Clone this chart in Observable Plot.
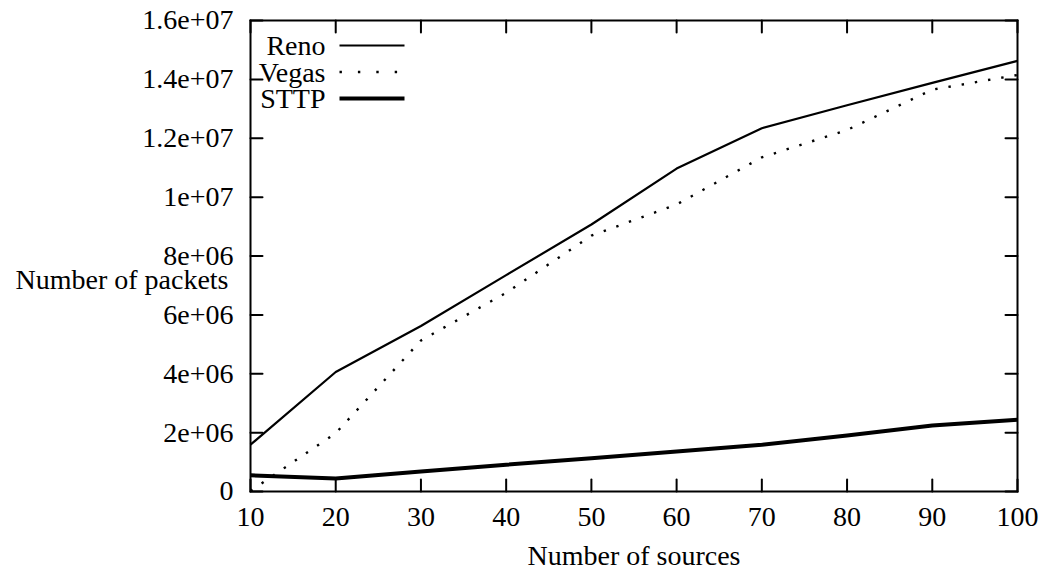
<!DOCTYPE html>
<html>
<head>
<meta charset="utf-8">
<script src="https://cdn.jsdelivr.net/npm/d3@7"></script>
<script src="https://cdn.jsdelivr.net/npm/@observablehq/plot@0.6"></script>
<style>
  html, body { margin: 0; padding: 0; background: #fff; }
  #chart svg { display: block; }
</style>
</head>
<body>
<div id="chart"></div>
<script>
// ---- data ----
const sources = [10, 20, 30, 40, 50, 60, 70, 80, 90, 100];
const reno  = [1.59e6, 4.06e6, 5.62e6, 7.35e6, 9.07e6, 10.97e6, 12.34e6, 13.12e6, 13.88e6, 14.63e6];
const vegas = [0.02e6, 1.98e6, 5.13e6, 6.75e6, 8.69e6, 9.75e6, 11.35e6, 12.28e6, 13.65e6, 14.15e6];
const sttp  = [0.55e6, 0.44e6, 0.68e6, 0.91e6, 1.13e6, 1.36e6, 1.59e6, 1.90e6, 2.24e6, 2.44e6];

const seriesNames = ["Reno", "Vegas", "STTP"];
const xTicks = [10, 20, 30, 40, 50, 60, 70, 80, 90, 100];
const xTickLabels = ["10", "20", "30", "40", "50", "60", "70", "80", "90", "100"];
const yTicks = [0, 2e6, 4e6, 6e6, 8e6, 10e6, 12e6, 14e6, 16e6];
const yTickLabels = ["0", "2e+06", "4e+06", "6e+06", "8e+06", "1e+07", "1.2e+07", "1.4e+07", "1.6e+07"];
const xLabel = "Number of sources";
const yLabel = "Number of packets";

// ---- build table ----
const seriesValues = [reno, vegas, sttp];
const rows = [];
seriesNames.forEach((name, i) => {
  sources.forEach((x, j) => rows.push({series: name, x, y: seriesValues[i][j]}));
});

const styles = {
  Reno:  {strokeWidth: 2.2, dash: null,     legendDash: null},
  Vegas: {strokeWidth: 2.4, dash: "2.4,11", legendDash: "2.4,16"},
  STTP:  {strokeWidth: 4,   dash: null,     legendDash: null}
};

const FONT = 28;
const tickShape = {draw(context, l) { context.moveTo(0, 0); context.lineTo(0, -l); }};

const marks = [];
// tick marks pointing inward on all four sides
marks.push(Plot.vector(xTicks, {x: d => d, frameAnchor: "bottom", anchor: "start", length: 12, rotate: 0, shape: tickShape, stroke: "black", strokeWidth: 2}));
marks.push(Plot.vector(xTicks, {x: d => d, frameAnchor: "top", anchor: "start", length: 12, rotate: 180, shape: tickShape, stroke: "black", strokeWidth: 2}));
marks.push(Plot.vector(yTicks, {y: d => d, frameAnchor: "left", anchor: "start", length: 12, rotate: 90, shape: tickShape, stroke: "black", strokeWidth: 2}));
marks.push(Plot.vector(yTicks, {y: d => d, frameAnchor: "right", anchor: "start", length: 12, rotate: -90, shape: tickShape, stroke: "black", strokeWidth: 2}));

// series lines
seriesNames.forEach(name => {
  const s = styles[name];
  marks.push(Plot.line(rows.filter(r => r.series === name), {
    x: "x", y: "y", stroke: "black", strokeWidth: s.strokeWidth,
    strokeDasharray: s.dash, strokeLinecap: "butt", strokeLinejoin: "round"
  }));
});

// legend inside top-left
seriesNames.forEach((name, i) => {
  const s = styles[name];
  marks.push(Plot.text([name], {
    text: d => d, frameAnchor: "top-left", dx: 75, dy: 26 + i * 26.5,
    textAnchor: "end", lineAnchor: "middle", fontSize: FONT, fill: "black"
  }));
  marks.push(Plot.vector([name], {
    frameAnchor: "top-left", dx: 89, dy: 25 + i * 26.5, anchor: "start",
    length: 65, rotate: 90, shape: tickShape, stroke: "black",
    strokeWidth: s.strokeWidth, strokeDasharray: s.legendDash, strokeLinecap: "butt"
  }));
});

// frame
marks.push(Plot.frame({stroke: "black", strokeWidth: 2}));

// axis labels
marks.push(Plot.text([yLabel], {text: d => d, frameAnchor: "left", dx: -22, dy: 24, textAnchor: "end", lineAnchor: "middle", fontSize: FONT, fill: "black"}));
marks.push(Plot.text([xLabel], {text: d => d, frameAnchor: "bottom", dy: 65, textAnchor: "middle", lineAnchor: "middle", fontSize: FONT, fill: "black"}));

const chart = Plot.plot({
  width: 1039,
  height: 571,
  marginLeft: 250,
  marginRight: 22,
  marginTop: 20,
  marginBottom: 80,
  style: {fontFamily: "'Liberation Serif', 'Times New Roman', serif", fontSize: FONT + "px", background: "white", color: "black"},
  x: {domain: [10, 100], ticks: xTicks, tickFormat: d => xTickLabels[xTicks.indexOf(d)], tickSize: 0, tickPadding: 15, label: null},
  y: {domain: [0, 1.6e7], ticks: yTicks, tickFormat: d => yTickLabels[yTicks.indexOf(d)], tickSize: 0, tickPadding: 17, label: null},
  marks
});

document.getElementById("chart").appendChild(chart);
</script>
</body>
</html>
